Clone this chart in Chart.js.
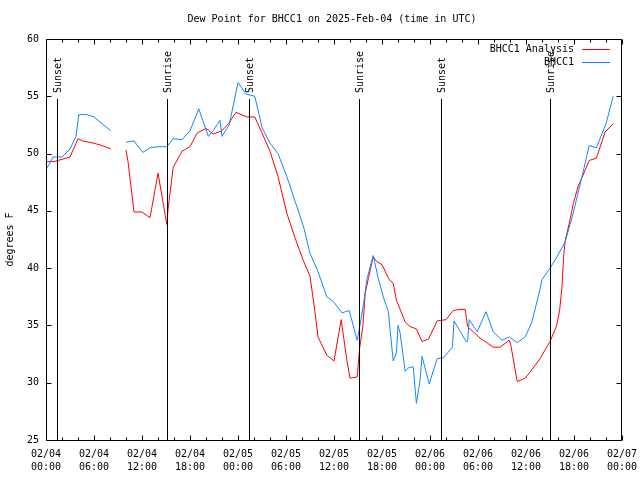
<!DOCTYPE html>
<html><head><meta charset="utf-8">
<script src="https://cdn.jsdelivr.net/npm/chart.js@4/dist/chart.umd.min.js"></script>
<style>html,body{margin:0;padding:0;background:#fff}canvas{display:block}</style>
</head><body>
<canvas id="c" width="640" height="480"></canvas>
<script>
const TITLE = "Dew Point for BHCC1 on 2025-Feb-04 (time in UTC)";
const Y_LABEL = "degrees F";
const START_MONTH = 2, START_DAY = 4;
const X_MIN = 0, X_MAX = 72, X_MAJOR = 6, X_MINOR = 2;
const Y_MIN = 25, Y_MAX = 60, Y_STEP = 5;

const seriesNames = ["BHCC1 Analysis", "BHCC1"];
const seriesColors = ["#ff0000", "#1485ff"];

// hours since 02/04 00:00 UTC (null = gap)
const analysisHours = [0,1,1.5,2,3,4,4.6,6,7,8.1,9,10,10.25,11,12,13,14,15.1,15.25,15.9,17,18,18.9,20,20.9,22,22.8,23.75,25.1,26.1,27,28,29,30.1,31.1,32.2,33,33.6,34,35.1,36,36.9,37.6,38,38.9,39.2,39.6,39.9,40.3,40.9,41.3,42,42.9,43.4,43.8,44.9,45.5,46.3,47,47.8,48.9,50,50.9,51.75,52.4,52.7,53.4,54.25,55.1,55.9,56.75,57.9,58.1,58.9,59.9,60.7,61.75,63,63.8,64.2,64.5,64.7,64.9,65.5,65.9,66.5,67,67.9,68.8,69.9,70.9];
const analysisValues = [49.3,49.3,49.4,49.5,49.7,51.3,51.1,50.9,50.7,50.4,null,50.3,49.3,44.9,44.9,44.4,48.3,43.8,45.1,48.8,50.2,50.6,51.8,52.2,51.7,52.0,52.6,53.6,53.2,53.2,51.8,50.2,48.0,44.8,42.7,40.6,39.3,36.3,34.0,32.4,31.9,35.5,32.0,30.4,30.5,33.0,34.9,37.8,39.1,41.0,40.6,40.3,39.0,38.7,37.2,35.3,34.9,34.7,33.6,33.8,35.4,35.5,36.3,36.4,36.4,34.9,34.45,33.9,33.5,33.1,33.1,33.7,33.3,30.1,30.4,31.1,32.1,33.6,34.9,36.3,38.4,41.0,42.4,44.2,45.6,47.1,47.9,49.4,49.6,51.9,52.6];

const obsHours = [0,0.9,2,3,3.75,4.1,5.1,6,7.2,8.1,9,10,11,12.1,13,14,15.1,15.9,17,18,19.1,20.3,20.9,21.75,22,22.9,24,25,26.1,27,28,29,30.1,31.1,32.2,33,34,35.1,35.9,37,37.9,38.9,39.25,39.7,40.1,40.9,41.5,42.2,42.8,43,43.4,43.8,44,44.25,44.9,45.3,45.9,46.3,46.75,47,47.9,48.9,49.7,50.8,51,51.75,52.5,52.7,52.9,53.9,55,55.9,57,57.9,58.9,59.9,60.7,61.7,62,63,63.8,64.9,65.9,67,67.9,68.8,70,70.9];
const obsValues = [48.6,49.7,49.7,50.4,51.5,53.4,53.4,53.2,52.5,52.0,null,51.0,51.1,50.1,50.5,50.6,50.6,51.3,51.2,52.0,53.9,51.5,52.0,52.9,51.5,52.5,56.2,55.2,55.0,52.3,50.9,50.0,48.0,45.9,43.6,41.3,39.7,37.5,37.1,36.1,36.3,33.7,35.0,36.9,39.0,41.1,39.2,37.4,36.2,34.7,31.9,32.6,35.0,34.4,31.0,31.3,31.4,28.2,30.2,32.3,29.9,32.1,32.2,33.1,35.4,34.5,33.6,33.6,35.5,34.45,36.2,34.45,33.7,34.0,33.5,34.0,35.2,38.0,39.0,40.0,40.9,42.3,44.8,48.0,50.7,50.5,52.6,55.0];

const sunEventHours = [1.42, 15.1, 25.42, 39.15, 49.42, 63.05];
const sunEventLabels = ["Sunset", "Sunrise", "Sunset", "Sunrise", "Sunset", "Sunrise"];

const FONT_FAMILY = "'DejaVu Sans Mono', 'Liberation Mono', monospace";
Chart.defaults.font.family = FONT_FAMILY;
Chart.defaults.font.size = 10;
Chart.defaults.color = "#000";

function pts(xs, ys) { return xs.map((x, i) => ({ x: x, y: ys[i] })); }
function pad2(n) { return (n < 10 ? "0" : "") + n; }
function timeLabel(h) {
  const d = START_DAY + Math.floor(h / 24);
  const hh = Math.round(h % 24);
  return [pad2(START_MONTH) + "/" + pad2(d), pad2(hh) + ":00"];
}

const framePlugin = {
  id: "frame",
  afterDatasetsDraw(chart) {
    const ctx = chart.ctx, a = chart.chartArea;
    const xs = chart.scales.x, ys = chart.scales.y;
    ctx.save();
    ctx.strokeStyle = "#000";
    ctx.lineWidth = 1;
    // sunrise/sunset lines
    ctx.beginPath();
    sunEventHours.forEach(h => {
      const x = Math.round(xs.getPixelForValue(h)) + 0.5;
      ctx.moveTo(x, a.bottom);
      ctx.lineTo(x, a.top + 60);
    });
    ctx.stroke();
    ctx.fillStyle = "#000";
    ctx.font = "10px " + FONT_FAMILY;
    ctx.textAlign = "left";
    ctx.textBaseline = "middle";
    sunEventHours.forEach((h, i) => {
      const x = Math.round(xs.getPixelForValue(h)) + 1;
      ctx.save();
      ctx.translate(x, a.top + 54);
      ctx.rotate(-Math.PI / 2);
      ctx.fillText(sunEventLabels[i], 0, 0);
      ctx.restore();
    });
    // box
    const L = Math.round(a.left) + 0.5, R = Math.round(a.right) - 0.5;
    const T = Math.round(a.top) + 0.5, B = Math.round(a.bottom) + 0.5;
    ctx.beginPath();
    ctx.rect(L, T, R - L, B - T);
    // x ticks
    for (let v = X_MIN; v <= X_MAX; v += X_MINOR) {
      const x = Math.round(xs.getPixelForValue(v)) + 0.5;
      const len = (v % X_MAJOR === 0) ? 5 : 3;
      ctx.moveTo(x, B); ctx.lineTo(x, B - len);
      ctx.moveTo(x, T); ctx.lineTo(x, T + len);
    }
    // y ticks
    for (let v = Y_MIN; v <= Y_MAX; v += Y_STEP) {
      const y = Math.round(ys.getPixelForValue(v)) + 0.5;
      ctx.moveTo(L, y); ctx.lineTo(L + 5, y);
      ctx.moveTo(R, y); ctx.lineTo(R - 5, y);
    }
    ctx.stroke();
    // title
    ctx.textAlign = "center";
    ctx.textBaseline = "middle";
    ctx.fillText(TITLE, 332, 19);
    // y label
    ctx.save();
    ctx.translate(10, (a.top + a.bottom) / 2);
    ctx.rotate(-Math.PI / 2);
    ctx.fillText(Y_LABEL, 0, 0);
    ctx.restore();
    // legend
    ctx.textAlign = "right";
    chart.data.datasets.forEach((ds, i) => {
      const y = 49 + i * 13;
      ctx.fillStyle = "#000";
      ctx.fillText(ds.label, 574, y);
      ctx.strokeStyle = ds.borderColor;
      ctx.beginPath();
      ctx.moveTo(582, y + 0.5); ctx.lineTo(610, y + 0.5);
      ctx.stroke();
    });
    ctx.restore();
  }
};

new Chart(document.getElementById("c"), {
  type: "line",
  data: {
    datasets: [
      { label: seriesNames[0], data: pts(analysisHours, analysisValues), borderColor: seriesColors[0], borderWidth: 1, pointRadius: 0, tension: 0, spanGaps: false, order: 1 },
      { label: seriesNames[1], data: pts(obsHours, obsValues), borderColor: seriesColors[1], borderWidth: 1, pointRadius: 0, tension: 0, spanGaps: false, order: 0 }
    ]
  },
  options: {
    responsive: false,
    animation: false,
    events: [],
    layout: { padding: { left: 0, right: 18, top: 39, bottom: 0 } },
    plugins: { legend: { display: false }, title: { display: false }, tooltip: { enabled: false } },
    scales: {
      x: {
        type: "linear", min: X_MIN, max: X_MAX,
        grid: { display: false, drawTicks: false }, border: { display: false },
        ticks: { stepSize: X_MAJOR, autoSkip: false, maxRotation: 0, padding: 8, font: { size: 10, lineHeight: 1.3 }, callback: (v) => timeLabel(v) },
        afterFit(s) { s.height = 40; s.paddingLeft = 0; s.paddingRight = 0; }
      },
      y: {
        min: Y_MIN, max: Y_MAX,
        grid: { display: false, drawTicks: false }, border: { display: false },
        ticks: { stepSize: Y_STEP, padding: 7 },
        afterFit(s) { s.width = 46; s.paddingTop = 0; s.paddingBottom = 0; }
      }
    }
  },
  plugins: [framePlugin]
});
</script>
</body></html>
